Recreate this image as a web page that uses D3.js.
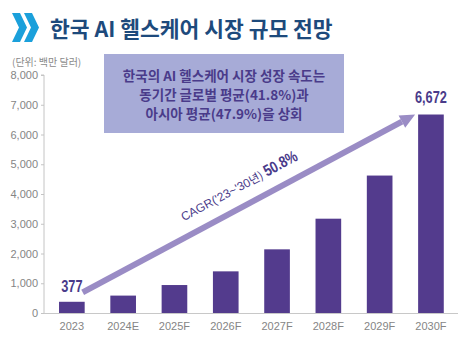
<!DOCTYPE html>
<html>
<head>
<meta charset="utf-8">
<script src="https://cdn.jsdelivr.net/npm/d3@7"></script>
<style>
  body { margin: 0; background: #fff; }
  svg { display: block; }
</style>
</head>
<body>
<div id="chart"></div>
<script>
// chart data
const years = ['2023', '2024E', '2025F', '2026F', '2027F', '2028F', '2029F', '2030F']
const sizes = [377, 585, 940, 1400, 2140, 3170, 4620, 6672]
const yTicks = [0, 1000, 2000, 3000, 4000, 5000, 6000, 7000, 8000]
const labelled = {'2023': '377', '2030F': '6,672'}
const calloutLines = ['한국의 AI 헬스케어 시장 성장 속도는', '동기간 글로벌 평균(41.8%)과', '아시아 평균(47.9%)을 상회']

const w = 470
const h = 344
const barColor = '#533b8d'
const textPurple = '#4a3b8a'
const arrowColor = '#9a8cc5'
const krFont = '"Noto Sans CJK KR", "Noto Sans", sans-serif'
const latin = '"Liberation Sans", Arial, sans-serif'

const svg = d3.select('#chart')
  .append('svg')
    .attr('width', w)
    .attr('height', h)

// x and y scales
const x = d3.scaleBand()
  .domain(years)
  .range([46.2, 456.6])
  .paddingInner(0.5)
  .paddingOuter(0.25)

const y = d3.scaleLinear()
  .domain([0, 8000])
  .range([313, 75])

// title with chevrons
const chev = svg.append('g').attr('fill', '#1ba0db')
;[0, 12].forEach(dx => {
  chev.append('path')
    .attr('d', `M${12 + dx},13 L${20 + dx},13 L${27 + dx},27.5 L${20 + dx},42 L${12 + dx},42 L${19 + dx},27.5 Z`)
})

svg.append('text')
  .attr('x', 50)
  .attr('y', 37)
  .attr('fill', '#1d4a7c')
  .style('font-family', krFont)
  .style('font-weight', 700)
  .style('font-size', '21.5px')
  .text('한국 AI 헬스케어 시장 규모 전망')

svg.append('text')
  .attr('x', 12)
  .attr('y', 66)
  .attr('fill', '#8a8a8a')
  .style('font-family', krFont)
  .style('font-size', '10px')
  .text('(단위: 백만 달러)')

// axes
const yAxis = svg.append('g')
  .attr('transform', 'translate(44,0)')
  .call(d3.axisLeft(y).tickValues(yTicks).tickSize(3).tickPadding(3).tickFormat(d3.format(',')))
yAxis.select('.domain').attr('stroke', '#c4c4c4').attr('d', `M-3,${y(8000)}H0V${y(0)}`)
yAxis.selectAll('.tick line').attr('stroke', '#c4c4c4')
yAxis.selectAll('.tick text')
  .attr('fill', '#858585')
  .style('font-family', latin)
  .style('font-size', '11px')

const xAxis = svg.append('g')
  .attr('transform', 'translate(0,' + y(0) + ')')
  .call(d3.axisBottom(x).tickSize(0).tickPadding(9))
xAxis.select('.domain').attr('stroke', '#c8c8c8').attr('d', 'M44,0.5H458')
xAxis.selectAll('.tick text')
  .attr('fill', '#858585')
  .style('font-family', latin)
  .style('font-size', '11px')

// bars
svg.selectAll('rect.bar')
  .data(years)
  .enter()
  .append('rect')
    .attr('class', 'bar')
    .attr('x', d => x(d))
    .attr('y', (d, i) => y(sizes[i]))
    .attr('width', x.bandwidth())
    .attr('height', (d, i) => y(0) - y(sizes[i]))
    .attr('fill', barColor)

// value labels on first and last bar (condensed look via scaleX)
svg.selectAll('g.val')
  .data(years.filter(d => labelled[d]))
  .enter()
  .append('g')
    .attr('class', 'val')
    .attr('transform', d => {
      const i = years.indexOf(d)
      return `translate(${x(d) + x.bandwidth() / 2},${y(sizes[i]) - (i === 0 ? 9.5 : 12)}) scale(0.8,1)`
    })
  .append('text')
    .attr('text-anchor', 'middle')
    .attr('fill', textPurple)
    .style('font-family', latin)
    .style('font-weight', 700)
    .style('font-size', '16px')
    .text(d => labelled[d])

// CAGR arrow from first bar to last bar
const x0 = x('2023') + x.bandwidth() - 2
const y0 = y(sizes[0]) - 9.5
const x1 = x('2030F') - 3
const y1 = y(sizes[7]) + 0
const ang = Math.atan2(y1 - y0, x1 - x0)
const headLen = 15
const bx = x1 - headLen * Math.cos(ang)
const by = y1 - headLen * Math.sin(ang)

svg.append('line')
  .attr('x1', x0).attr('y1', y0)
  .attr('x2', bx).attr('y2', by)
  .attr('stroke', arrowColor)
  .attr('stroke-width', 6)

const px = -Math.sin(ang), py = Math.cos(ang)
svg.append('path')
  .attr('d', `M${x1},${y1} L${bx + px * 7},${by + py * 7} L${bx - px * 7},${by - py * 7} Z`)
  .attr('fill', arrowColor)

// CAGR label sitting above the arrow
const tj = (274 - x0) / (x1 - x0)
const jx = x0 + (x1 - x0) * tj - 15 * px
const jy = y0 + (y1 - y0) * tj - 15 * py
const cg = svg.append('g')
  .attr('transform', `translate(${jx},${jy}) rotate(${ang * 180 / Math.PI})`)
const cagr = cg.append('text')
  .attr('x', -3)
  .attr('text-anchor', 'end')
  .attr('fill', textPurple)
cagr.append('tspan')
  .style('font-family', latin)
  .style('font-size', '12px')
  .text("CAGR('23~'30")
cagr.append('tspan')
  .style('font-family', krFont)
  .style('font-size', '11.5px')
  .text('년)')
cg.append('g')
  .attr('transform', 'scale(0.8,1)')
  .append('text')
    .attr('fill', textPurple)
    .style('font-family', latin)
    .style('font-weight', 700)
    .style('font-size', '16px')
    .text('50.8%')

// callout box
svg.append('rect')
  .attr('x', 104)
  .attr('y', 54)
  .attr('width', 240)
  .attr('height', 79)
  .attr('fill', '#a7abd7')

svg.selectAll('text.callout')
  .data(calloutLines)
  .enter()
  .append('text')
    .attr('class', 'callout')
    .attr('x', 224)
    .attr('y', (d, i) => 81 + i * 19)
    .attr('text-anchor', 'middle')
    .attr('fill', textPurple)
    .style('font-family', krFont)
    .style('font-weight', 700)
    .style('font-size', '13.5px')
    .text(d => d)
</script>
</body>
</html>
